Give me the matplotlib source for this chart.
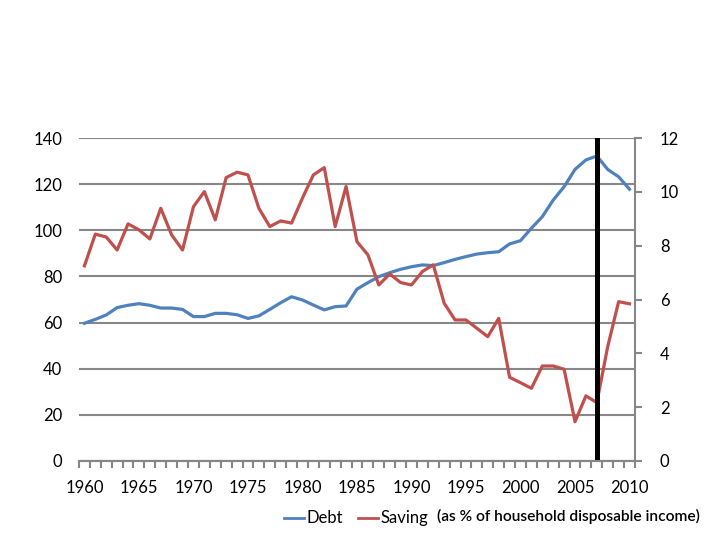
#!/usr/bin/env python3

import matplotlib
matplotlib.use("Agg")
import matplotlib.pyplot as plt
from matplotlib.ticker import FixedLocator

# Household debt and saving, as % of household disposable income
years = list(range(1960, 2011))
debt = [59.7, 61.4, 63.3, 66.5, 67.5, 68.2, 67.5, 66.3, 66.3, 65.7,
        62.6, 62.6, 64.0, 64.0, 63.4, 61.8, 62.9, 65.7, 68.6, 71.2,
        69.8, 67.6, 65.5, 66.9, 67.2, 74.5, 77.3, 79.9, 81.6, 83.1,
        84.2, 85.0, 84.7, 86.0, 87.4, 88.6, 89.7, 90.3, 90.7, 94.1,
        95.5, 100.9, 105.9, 113.1, 118.9, 126.4, 130.5, 132.2, 126.4, 123.2,
        117.8]
saving = [7.25, 8.43, 8.32, 7.84, 8.81, 8.59, 8.25, 9.39, 8.40, 7.84,
          9.45, 10.01, 8.96, 10.53, 10.73, 10.63, 9.39, 8.71, 8.92, 8.84,
          9.77, 10.63, 10.90, 8.71, 10.20, 8.15, 7.66, 6.54, 6.95, 6.63,
          6.54, 7.04, 7.29, 5.86, 5.24, 5.24, 4.93, 4.62, 5.30, 3.11,
          2.91, 2.70, 3.53, 3.53, 3.41, 1.46, 2.42, 2.17, 4.25, 5.92,
          5.84]
crisis_year = 2007
left_ticks = [0, 20, 40, 60, 80, 100, 120, 140]
right_ticks = [0, 2, 4, 6, 8, 10, 12]
year_labels = list(range(1960, 2011, 5))

plt.rcParams['font.family'] = ['Lato', 'DejaVu Sans']
grid_color = '#878787'
fs = 12

fig = plt.figure(figsize=(7.2, 5.4), dpi=100)
ax = fig.add_axes([0.1097, 0.1463, 0.7722, 0.5981])
ax2 = ax.twinx()

# horizontal gridlines at the left-axis ticks
for y in left_ticks:
    ax.axhline(y, color=grid_color, lw=1.5, zorder=0)

ax.plot(years, debt, color='#4F81BD', lw=2.3, zorder=3, label='Debt')
ax2.plot(years, saving, color='#C0504D', lw=2.3, zorder=3, label='Saving')
ax2.axvline(crisis_year, ymin=0.013, ymax=1, color='black', lw=3.6, zorder=4)

ax.set_xlim(years[0] - 0.5, years[-1] + 0.5)
ax.set_ylim(0, 140)
ax2.set_ylim(0, 12)

ax.set_yticks(left_ticks)
ax.tick_params(axis='y', length=0, pad=12, labelsize=fs)
ax2.set_yticks(right_ticks)
ax2.tick_params(axis='y', length=5, width=1.5, color=grid_color, pad=13, labelsize=fs)

# category-style ticks between years, labels every 5 years
ax.set_xticks(year_labels)
ax.xaxis.set_minor_locator(FixedLocator([y - 0.5 for y in years] + [years[-1] + 0.5]))
ax.tick_params(axis='x', which='major', length=0, pad=14, labelsize=fs)
ax.tick_params(axis='x', which='minor', length=5, width=1.5, color=grid_color)

for a in (ax, ax2):
    a.spines['top'].set_visible(False)
    a.spines['left'].set_visible(False)
    a.spines['bottom'].set_color(grid_color)
    a.spines['bottom'].set_linewidth(1.5)
    a.spines['right'].set_color(grid_color)
    a.spines['right'].set_linewidth(1.5)
ax.spines['right'].set_visible(False)
ax2.set_zorder(ax.get_zorder() + 1)
ax2.patch.set_visible(False)

h1, l1 = ax.get_legend_handles_labels()
h2, l2 = ax2.get_legend_handles_labels()
fig.legend(h1 + h2, l1 + l2, loc='center left', bbox_to_anchor=(0.383, 0.04),
           ncol=2, frameon=False, fontsize=fs, handlelength=1.2,
           handletextpad=0.15, columnspacing=0.9, borderpad=0)
for line in fig.legends[0].get_lines():
    line.set_linewidth(2.0)
fig.text(0.607, 0.043, '(as % of household disposable income)', fontsize=11.2,
         fontweight='semibold', va='center', ha='left')

fig.savefig('out.png', dpi=100)
